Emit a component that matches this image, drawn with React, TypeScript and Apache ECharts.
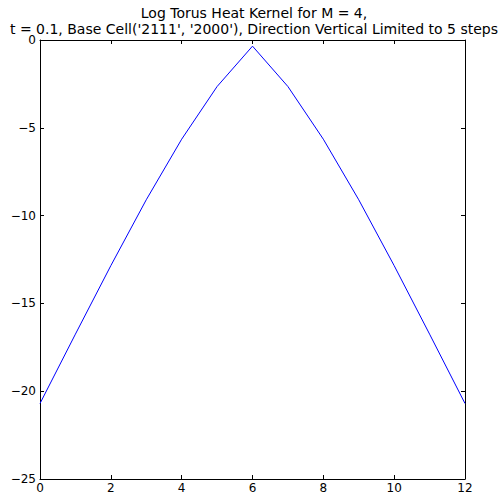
import React, { useEffect, useRef } from "react";
import * as echarts from "echarts";

const titleLines = [
  "Log Torus Heat Kernel for M = 4,",
  "t = 0.1, Base Cell('2111', '2000'), Direction Vertical Limited to 5 steps",
];
const steps = [0, 1, 2, 3, 4, 5, 6, 7, 8, 9, 10, 11, 12];
const logKernel = [-20.7, -16.75, -12.85, -9.1, -5.65, -2.65, -0.35, -2.65, -5.65, -9.1, -12.85, -16.75, -20.7];
const xTicks = { min: 0, max: 12, interval: 2 };
const yTicks = { min: -25, max: 0, interval: 5 };

const FONT = "DejaVu Sans";

export default function App() {
  const ref = useRef<HTMLDivElement>(null);
  useEffect(() => {
    document.body.style.margin = "0";
    const chart = echarts.init(ref.current!, null, { renderer: "svg" });
    const fmt = (v: number) => (v < 0 ? "\u2212" + Math.abs(v) : String(v));
    const axisCommon = {
      axisLine: { show: true, onZero: false, lineStyle: { color: "#000", width: 1 } },
      axisTick: { show: true, inside: true, length: 4, lineStyle: { color: "#000", width: 1 } },
      splitLine: { show: false },
    };
    chart.setOption({
      animation: false,
      backgroundColor: "#fff",
      graphic: [
        {
          type: "text",
          x: 254,
          y: 5,
          style: {
            text: titleLines.join("\n"),
            fontFamily: FONT,
            fontSize: 14,
            lineHeight: 16,
            fill: "#000",
            textAlign: "center",
          },
        },
      ],
      grid: { left: 40, top: 40, width: 425, height: 439, containLabel: false },
      xAxis: [
        {
          type: "value",
          position: "bottom",
          ...xTicks,
          ...axisCommon,
          axisLabel: { color: "#000", fontFamily: FONT, fontSize: 12, margin: 3, formatter: fmt },
        },
        {
          type: "value",
          position: "top",
          ...xTicks,
          ...axisCommon,
          axisLabel: { show: false },
        },
      ],
      yAxis: [
        {
          type: "value",
          position: "left",
          ...yTicks,
          ...axisCommon,
          axisLabel: { color: "#000", fontFamily: FONT, fontSize: 12, margin: 4, formatter: fmt },
        },
        {
          type: "value",
          position: "right",
          ...yTicks,
          ...axisCommon,
          axisLabel: { show: false },
        },
      ],
      series: [
        {
          type: "line",
          data: steps.map((s, i) => [s, logKernel[i]]),
          showSymbol: false,
          symbol: "none",
          lineStyle: { color: "#0000ff", width: 1 },
          xAxisIndex: 0,
          yAxisIndex: 0,
        },
      ],
    });
    return () => chart.dispose();
  }, []);
  return <div ref={ref} style={{ width: 500, height: 498 }} />;
}
